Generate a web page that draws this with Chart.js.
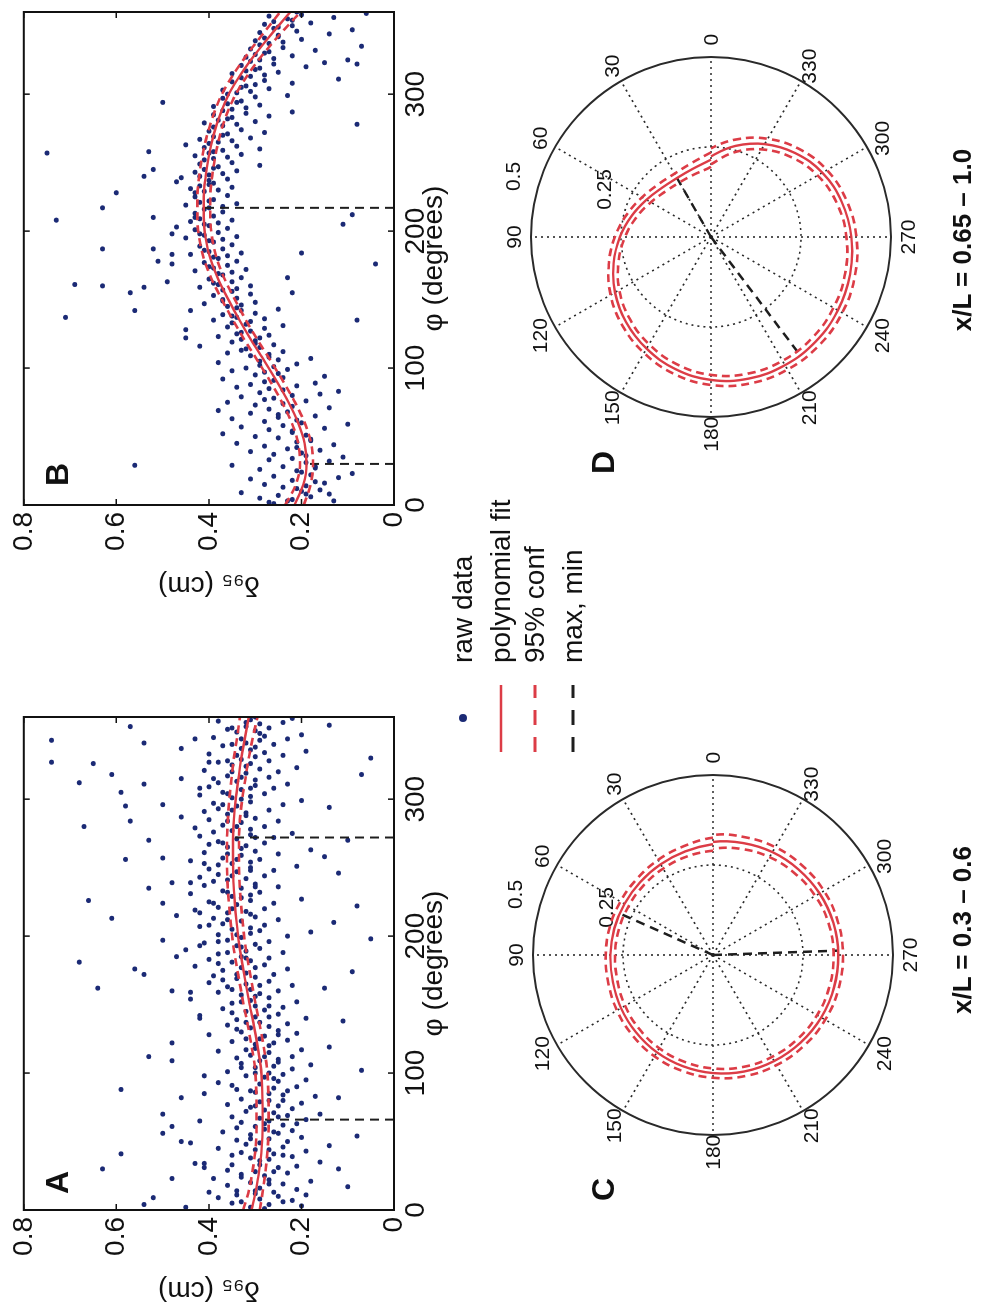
<!DOCTYPE html>
<html>
<head>
<meta charset="utf-8">
<script src="https://cdn.jsdelivr.net/npm/chart.js@4.4.1/dist/chart.umd.min.js"></script>
<style>
html, body { margin: 0; padding: 0; background: #fff; width: 990px; height: 1312px; overflow: hidden; }
/* la figura se dibuja en horizontal (1312x990) y luego se gira 90 grados */
#figura { position: absolute; left: 0; top: 0; width: 1312px; height: 990px; transform-origin: 0 0;
          transform: translateY(1312px) rotate(-90deg); font-family: "Liberation Sans", Arial, sans-serif; color: #111; }
#figura canvas { position: absolute; }
.texto { position: absolute; white-space: nowrap; line-height: 1; }
.letra { font-weight: bold; font-size: 32px; }
.leyenda { font-size: 28px; }
.rango { font-weight: bold; font-size: 26px; width: 320px; text-align: center; }
</style>
</head>
<body>
<div id="figura">
  <canvas id="graficoA" width="625" height="470" style="left:0;top:0"></canvas>
  <canvas id="graficoB" width="607" height="470" style="left:705px;top:0"></canvas>
  <canvas id="polarC" width="500" height="500" style="left:107px;top:463px"></canvas>
  <canvas id="polarD" width="500" height="500" style="left:825px;top:461px"></canvas>

  <div class="texto letra" style="left:118px;top:41px">A</div>
  <div class="texto letra" style="left:826px;top:41px">B</div>
  <div class="texto letra" style="left:111px;top:587px">C</div>
  <div class="texto letra" style="left:838px;top:587px">D</div>

  <!-- leyenda -->
  <div style="position:absolute;left:590px;top:459px;width:8px;height:8px;border-radius:50%;background:#1b2a75"></div>
  <svg style="position:absolute;left:555px;top:480px" width="80" height="110">
    <line x1="5" y1="21" x2="72" y2="21" stroke="#dc3c46" stroke-width="2.5"/>
    <line x1="5" y1="55" x2="72" y2="55" stroke="#dc3c46" stroke-width="3" stroke-dasharray="15 12"/>
    <line x1="5" y1="93" x2="72" y2="93" stroke="#1e1e1e" stroke-width="3" stroke-dasharray="15 12"/>
  </svg>
  <div class="texto leyenda" style="left:649px;top:449px">raw data</div>
  <div class="texto leyenda" style="left:649px;top:487px">polynomial fit</div>
  <div class="texto leyenda" style="left:649px;top:521px">95% conf</div>
  <div class="texto leyenda" style="left:649px;top:559px">max, min</div>

  <div class="texto rango" style="left:222px;top:949px">x/L = 0.3 – 0.6</div>
  <div class="texto rango" style="left:912px;top:949px">x/L = 0.65 – 1.0</div>
</div>

<script>
// Ángulos donde se leyó el ajuste polinómico (grados)
const anguloAjuste = [0, 15, 30, 45, 60, 75, 90, 105, 120, 135, 150, 165, 180, 195, 210, 225, 240, 255, 270, 285, 300, 315, 330, 345, 360];

// x/L = 0.3 - 0.6 (paneles A y C)
const ajusteA   = [0.308, 0.298, 0.291, 0.286, 0.284, 0.284, 0.285, 0.288, 0.295, 0.303, 0.312, 0.320, 0.328, 0.335, 0.340, 0.344, 0.347, 0.348, 0.348, 0.346, 0.342, 0.336, 0.330, 0.322, 0.314];
const inferiorA = [0.290, 0.283, 0.277, 0.273, 0.271, 0.271, 0.272, 0.275, 0.282, 0.290, 0.299, 0.307, 0.315, 0.322, 0.327, 0.331, 0.334, 0.335, 0.335, 0.333, 0.328, 0.321, 0.314, 0.305, 0.295];
const superiorA = [0.326, 0.313, 0.305, 0.299, 0.297, 0.297, 0.298, 0.301, 0.308, 0.316, 0.325, 0.333, 0.341, 0.348, 0.353, 0.357, 0.360, 0.361, 0.361, 0.359, 0.356, 0.351, 0.346, 0.339, 0.333];
const phiExtA   = [272, 66];
const deltaExtA = [0.348, 0.284];

// x/L = 0.65 - 1.0 (paneles B y D)
const ajusteB   = [0.215, 0.196, 0.189, 0.193, 0.207, 0.228, 0.253, 0.280, 0.308, 0.334, 0.358, 0.380, 0.397, 0.407, 0.411, 0.411, 0.407, 0.400, 0.390, 0.376, 0.357, 0.330, 0.298, 0.262, 0.224];
const inferiorB = [0.195, 0.180, 0.175, 0.179, 0.193, 0.214, 0.239, 0.266, 0.294, 0.320, 0.344, 0.366, 0.383, 0.393, 0.397, 0.397, 0.393, 0.386, 0.376, 0.362, 0.342, 0.314, 0.281, 0.243, 0.202];
const superiorB = [0.235, 0.212, 0.203, 0.207, 0.221, 0.242, 0.267, 0.294, 0.322, 0.348, 0.372, 0.394, 0.411, 0.421, 0.425, 0.425, 0.421, 0.414, 0.404, 0.390, 0.372, 0.346, 0.315, 0.281, 0.246];
const phiExtB   = [217, 30];
const deltaExtB = [0.411, 0.189];

// Datos crudos [phi, delta95]
const crudosA = [
  [2,0.31],[4,0.27],[5,0.35],[7,0.22],[8,0.29],[9,0.38],[10,0.25],[11,0.19],[6,0.33],[3,0.20],[12,0.30],
  [13,0.26],[14,0.34],[15,0.21],[16,0.29],[18,0.36],[19,0.24],[20,0.31],[21,0.18],[22,0.27],[23,0.39],[17,0.10],
  [25,0.28],[26,0.33],[27,0.23],[28,0.30],[29,0.36],[31,0.25],[32,0.21],[33,0.29],[34,0.41],[35,0.16],[30,0.12],
  [37,0.27],[38,0.31],[39,0.22],[40,0.35],[41,0.26],[43,0.19],[44,0.30],[45,0.38],[46,0.24],[47,0.14],[42,0.33],
  [49,0.29],[50,0.23],[51,0.34],[52,0.27],[53,0.20],[55,0.31],[56,0.25],[57,0.37],[58,0.22],[59,0.28],[54,0.08],
  [61,0.30],[62,0.24],[63,0.21],[64,0.33],[65,0.27],[66,0.19],[67,0.29],[68,0.35],[69,0.23],[71,0.26],[70,0.16],
  [73,0.28],[74,0.22],[75,0.31],[76,0.25],[77,0.36],[78,0.20],[79,0.29],[80,0.24],[81,0.33],[83,0.17],[82,0.12],
  [85,0.27],[86,0.30],[87,0.23],[88,0.34],[89,0.26],[90,0.21],[92,0.29],[93,0.38],[94,0.25],[95,0.19],
  [97,0.28],[98,0.32],[99,0.24],[100,0.27],[101,0.36],[103,0.22],[104,0.30],[105,0.26],[106,0.18],[107,0.33],[102,0.07],
  [109,0.29],[110,0.25],[111,0.34],[112,0.22],[113,0.31],[115,0.27],[116,0.38],[117,0.20],[118,0.30],[119,0.14],
  [121,0.30],[122,0.26],[123,0.35],[124,0.23],[125,0.32],[127,0.28],[128,0.40],[129,0.21],[130,0.33],[131,0.25],
  [133,0.31],[134,0.27],[135,0.36],[136,0.23],[137,0.29],[139,0.34],[140,0.19],[141,0.30],[142,0.42],[143,0.25],[138,0.11],
  [145,0.32],[146,0.28],[147,0.37],[148,0.24],[149,0.30],[151,0.35],[152,0.21],[153,0.31],[154,0.44],[155,0.27],
  [157,0.33],[158,0.29],[159,0.38],[160,0.25],[161,0.31],[163,0.36],[164,0.22],[165,0.32],[166,0.40],[167,0.27],[162,0.15],
  [169,0.34],[170,0.30],[171,0.39],[172,0.26],[173,0.32],[175,0.37],[176,0.23],[177,0.33],[178,0.43],[179,0.28],[174,0.09],
  [181,0.35],[182,0.31],[183,0.40],[184,0.27],[185,0.33],[187,0.38],[188,0.24],[189,0.32],[190,0.45],[191,0.29],
  [193,0.34],[194,0.30],[195,0.41],[196,0.27],[197,0.36],[199,0.33],[200,0.23],[201,0.38],[202,0.31],[203,0.18],[198,0.05],
  [205,0.35],[206,0.31],[207,0.42],[208,0.28],[209,0.37],[211,0.33],[212,0.25],[213,0.39],[214,0.30],[215,0.47],[210,0.13],
  [217,0.36],[218,0.32],[219,0.43],[220,0.28],[221,0.38],[223,0.34],[224,0.26],[225,0.40],[226,0.31],[227,0.20],[222,0.08],
  [229,0.35],[230,0.31],[231,0.44],[232,0.29],[233,0.37],[235,0.33],[236,0.25],[237,0.41],[238,0.30],[239,0.48],
  [241,0.36],[242,0.32],[243,0.42],[244,0.28],[245,0.38],[247,0.34],[248,0.26],[249,0.40],[250,0.31],[251,0.21],[246,0.12],
  [253,0.35],[254,0.31],[255,0.44],[256,0.29],[257,0.37],[259,0.33],[260,0.25],[261,0.41],[262,0.30],[263,0.18],[258,0.15],
  [265,0.36],[266,0.32],[267,0.40],[268,0.28],[269,0.38],[271,0.34],[272,0.26],[273,0.42],[274,0.31],[275,0.22],[270,0.10],
  [277,0.35],[278,0.31],[279,0.43],[280,0.28],[281,0.37],[283,0.33],[284,0.25],[285,0.40],[286,0.30],[287,0.46],
  [289,0.36],[290,0.32],[291,0.41],[292,0.27],[293,0.38],[295,0.34],[296,0.24],[297,0.39],[298,0.31],[299,0.20],[294,0.14],
  [301,0.35],[302,0.31],[303,0.42],[304,0.28],[305,0.37],[307,0.33],[308,0.26],[309,0.40],[310,0.30],[311,0.23],
  [313,0.34],[314,0.30],[315,0.39],[316,0.27],[317,0.36],[319,0.32],[320,0.25],[321,0.41],[322,0.29],[323,0.21],[318,0.07],
  [325,0.35],[326,0.31],[327,0.38],[328,0.27],[329,0.33],[331,0.30],[332,0.24],[333,0.40],[334,0.28],[335,0.19],[330,0.05],
  [337,0.33],[338,0.30],[339,0.37],[340,0.26],[341,0.32],[343,0.29],[344,0.23],[345,0.39],[346,0.28],[347,0.20],
  [349,0.34],[350,0.30],[351,0.36],[352,0.27],[353,0.32],[355,0.29],[356,0.24],[357,0.38],[358,0.31],[359,0.22],[354,0.14],
  [343,0.74],[327,0.74],[312,0.68],[280,0.67],[226,0.66],[181,0.68],[162,0.64],[30,0.63],[213,0.61],[318,0.61],
  [326,0.65],[41,0.59],[88,0.59],[305,0.59],[295,0.58],[256,0.58],[353,0.57],[284,0.57],[176,0.56],[341,0.54],
  [311,0.54],[172,0.54],[4,0.54],[270,0.53],[235,0.53],[112,0.53],[9,0.52],[56,0.50],[296,0.50],[224,0.50],
  [257,0.50],[197,0.50],[70,0.50],[122,0.48],[61,0.48],[109,0.48],[160,0.48],[23,0.48],[185,0.47],[82,0.46],
  [337,0.46],[315,0.46],[50,0.46],[2,0.45],[239,0.44],[49,0.44],[159,0.44],[344,0.43],[34,0.43],[308,0.42],
  [140,0.42],[65,0.42],[217,0.42],[193,0.42],[253,0.41],[85,0.41],[98,0.41],[31,0.41],[327,0.40],[13,0.40],
  [1,0.28],[6,0.24],[11,0.34],[14,0.30],[19,0.27],[24,0.33],[28,0.26],[33,0.35],[36,0.29],[40,0.24],
  [44,0.27],[48,0.32],[52,0.31],[57,0.26],[60,0.34],[63,0.28],[68,0.25],[72,0.32],[76,0.30],[80,0.27],
  [84,0.24],[87,0.31],[91,0.35],[96,0.26],[100,0.30],[104,0.33],[108,0.25],[112,0.28],[117,0.32],[120,0.27],
  [125,0.29],[128,0.25],[132,0.34],[137,0.32],[141,0.27],[144,0.35],[149,0.27],[152,0.33],[156,0.30],[161,0.35],
  [164,0.29],[168,0.37],[172,0.34],[177,0.30],[180,0.38],[184,0.32],[188,0.36],[192,0.33],[196,0.38],[201,0.34],
  [204,0.29],[208,0.40],[212,0.36],[216,0.31],[220,0.35],[224,0.39],[228,0.33],[232,0.36],[236,0.30],[240,0.39],
  [244,0.35],[248,0.31],[252,0.38],[256,0.34],[260,0.36],[264,0.33],[268,0.37],[272,0.30],[276,0.39],[280,0.34],
  [284,0.36],[288,0.32],[292,0.35],[296,0.37],[300,0.33],[304,0.36],[308,0.31],[312,0.38],[316,0.33],[320,0.35],
  [324,0.32],[328,0.36],[332,0.34],[336,0.31],[340,0.35],[344,0.33],[348,0.29],[352,0.35],[356,0.32],[360,0.30]
];

const crudosB = [
  [1,0.26],[2,0.27],[3,0.13],[4,0.22],[5,0.29],[6,0.18],[7,0.25],[8,0.14],[9,0.33],[10,0.20],[11,0.16],
  [13,0.24],[14,0.19],[15,0.28],[16,0.15],[18,0.22],[19,0.31],[20,0.12],[21,0.26],[22,0.18],[23,0.09],
  [25,0.21],[26,0.29],[27,0.17],[28,0.24],[29,0.35],[31,0.19],[32,0.14],[33,0.27],[34,0.22],[35,0.11],
  [37,0.26],[38,0.20],[39,0.31],[40,0.16],[41,0.23],[43,0.28],[44,0.13],[45,0.34],[46,0.21],[47,0.18],
  [49,0.25],[50,0.30],[51,0.19],[52,0.37],[53,0.22],[55,0.27],[56,0.15],[57,0.33],[58,0.24],[59,0.10],
  [61,0.28],[62,0.21],[63,0.35],[64,0.25],[65,0.17],[67,0.31],[68,0.23],[69,0.38],[70,0.27],[71,0.14],
  [73,0.30],[74,0.24],[75,0.36],[76,0.19],[77,0.28],[79,0.33],[80,0.22],[81,0.16],[82,0.29],[83,0.12],
  [85,0.27],[86,0.34],[87,0.21],[88,0.31],[89,0.17],[91,0.26],[92,0.37],[93,0.24],[94,0.15],[95,0.30],
  [97,0.28],[98,0.35],[99,0.23],[100,0.32],[101,0.26],[103,0.21],[104,0.38],[105,0.29],[106,0.25],[107,0.18],
  [109,0.31],[110,0.27],[111,0.36],[112,0.24],[113,0.33],[115,0.29],[116,0.42],[117,0.26],[118,0.30],[119,0.35],
  [121,0.33],[122,0.29],[123,0.38],[124,0.27],[125,0.34],[127,0.31],[128,0.45],[129,0.28],[130,0.36],[131,0.24],
  [133,0.35],[134,0.31],[135,0.39],[136,0.28],[137,0.34],[139,0.37],[140,0.30],[142,0.33],[143,0.25],
  [145,0.36],[146,0.33],[147,0.41],[148,0.30],[149,0.37],[151,0.34],[153,0.39],[154,0.31],[155,0.22],
  [157,0.37],[158,0.34],[159,0.42],[160,0.31],[161,0.38],[163,0.35],[165,0.40],[166,0.33],
  [169,0.38],[170,0.35],[171,0.43],[172,0.32],[173,0.39],[175,0.36],[176,0.48],[177,0.41],[178,0.34],
  [181,0.39],[182,0.36],[183,0.44],[184,0.33],[185,0.40],[187,0.37],[189,0.42],[190,0.35],
  [193,0.40],[194,0.37],[195,0.45],[196,0.34],[197,0.41],[199,0.38],[201,0.43],[202,0.36],[203,0.47],
  [205,0.41],[206,0.38],[207,0.44],[208,0.35],[209,0.42],[211,0.39],[213,0.43],[214,0.37],
  [217,0.40],[218,0.37],[219,0.45],[220,0.34],[221,0.42],[223,0.39],[225,0.43],[226,0.36],
  [229,0.41],[230,0.38],[231,0.44],[232,0.35],[233,0.42],[235,0.39],[237,0.40],[238,0.36],[239,0.46],
  [241,0.40],[242,0.37],[243,0.43],[244,0.34],[245,0.41],[247,0.38],[248,0.29],[249,0.42],[250,0.35],
  [253,0.39],[254,0.36],[255,0.43],[256,0.33],[257,0.40],[259,0.37],[260,0.29],[261,0.41],[262,0.34],
  [265,0.38],[266,0.35],[267,0.42],[268,0.31],[269,0.39],[271,0.36],[272,0.28],[273,0.40],[274,0.33],
  [277,0.37],[278,0.34],[279,0.41],[280,0.30],[281,0.38],[283,0.35],[284,0.27],[285,0.39],[286,0.32],[287,0.22],
  [289,0.35],[290,0.32],[291,0.39],[292,0.29],[293,0.36],[295,0.33],[297,0.37],[298,0.30],[299,0.23],
  [301,0.34],[302,0.31],[303,0.37],[304,0.27],[305,0.33],[307,0.30],[308,0.22],[309,0.35],[310,0.28],[311,0.12],
  [313,0.31],[314,0.28],[315,0.35],[316,0.25],[317,0.32],[319,0.29],[320,0.19],[321,0.33],[322,0.26],[323,0.15],
  [325,0.29],[326,0.26],[327,0.32],[328,0.22],[329,0.30],[331,0.27],[332,0.17],[333,0.31],[334,0.24],[335,0.07],
  [337,0.27],[338,0.24],[339,0.30],[340,0.20],[341,0.28],[343,0.25],[344,0.14],[345,0.29],[346,0.21],[347,0.09],
  [349,0.25],[350,0.22],[351,0.28],[352,0.18],[353,0.26],[355,0.23],[356,0.13],[357,0.27],[358,0.20],[359,0.06],
  [257,0.75],[208,0.73],[137,0.71],[161,0.69],[217,0.63],[187,0.63],[160,0.63],[228,0.60],[155,0.57],[142,0.56],
  [29,0.56],[240,0.54],[159,0.54],[258,0.53],[210,0.52],[187,0.52],[178,0.51],[245,0.52],[294,0.50],[163,0.49],
  [198,0.48],[183,0.48],[236,0.47],[122,0.45],[142,0.44],[263,0.45],
  [176,0.04],[278,0.08],[135,0.08],[205,0.11],[212,0.09],[325,0.10],[322,0.08],[184,0.20],[166,0.23],
  [3,0.23],[8,0.19],[12,0.21],[17,0.17],[24,0.20],[28,0.17],[36,0.19],[42,0.21],[48,0.18],[54,0.22],
  [60,0.20],[66,0.25],[72,0.22],[78,0.26],[84,0.24],[90,0.28],[96,0.25],[102,0.29],[108,0.27],[114,0.32],
  [120,0.30],[126,0.33],[132,0.32],[138,0.35],[144,0.34],[150,0.37],[156,0.35],[162,0.39],[168,0.37],[174,0.40],
  [180,0.38],[186,0.41],[192,0.39],[198,0.42],[204,0.40],[210,0.43],[216,0.41],[222,0.40],[228,0.43],[234,0.40],
  [240,0.42],[246,0.39],[252,0.41],[258,0.39],[264,0.40],[270,0.37],[276,0.39],[282,0.36],[288,0.37],[294,0.34],
  [300,0.36],[306,0.32],[312,0.33],[318,0.30],[324,0.31],[330,0.28],[336,0.29],[342,0.25],[348,0.26],[354,0.22],[360,0.21]
];

// Rejilla polar: ángulos de los radios y círculos de referencia
const anguloRejilla = [0, 30, 60, 90, 120, 150, 180, 210, 240, 270, 300, 330];
const radioRejilla = [0.25, 0.5];
const anguloEtiquetaRadio = [66, 73];

const ROJO = '#dc3c46';
const AZUL = '#1b2a75';
const NEGRO = '#1e1e1e';

Chart.defaults.font.family = '"Liberation Sans", Arial, sans-serif';
Chart.defaults.color = '#111';
Chart.defaults.animation = false;

// Marco estilo MATLAB: caja cerrada con marcas hacia dentro
const marcoMatlab = {
    id: 'marcoMatlab',
    afterDatasetsDraw(chart) {
        const { ctx, chartArea: a, scales: { x, y } } = chart;
        ctx.save();
        ctx.strokeStyle = '#111';
        ctx.lineWidth = 1.5;
        ctx.beginPath();
        x.ticks.forEach(t => {
            const px = x.getPixelForValue(t.value);
            ctx.moveTo(px, a.bottom); ctx.lineTo(px, a.bottom - 6);
            ctx.moveTo(px, a.top); ctx.lineTo(px, a.top + 6);
        });
        y.ticks.forEach(t => {
            const py = y.getPixelForValue(t.value);
            ctx.moveTo(a.left, py); ctx.lineTo(a.left + 6, py);
            ctx.moveTo(a.right, py); ctx.lineTo(a.right - 6, py);
        });
        ctx.stroke();
        ctx.lineWidth = 2;
        ctx.strokeRect(a.left, a.top, a.right - a.left, a.bottom - a.top);
        ctx.restore();
    }
};

function crearCartesiano(idCanvas, crudos, ajuste, inferior, superior, phiExt, deltaExt, margenDerecho) {
    const curva = valores => anguloAjuste.map((a, i) => ({ x: a, y: valores[i] }));
    const lineaRoja = (valores, guiones) => ({
        data: curva(valores), showLine: true, borderColor: ROJO, borderWidth: guiones ? 2.6 : 2.4,
        borderDash: guiones || [], pointRadius: 0, cubicInterpolationMode: 'monotone'
    });
    const extremos = phiExt.map((p, i) => ({
        data: [{ x: p, y: 0 }, { x: p, y: deltaExt[i] }], showLine: true,
        borderColor: NEGRO, borderWidth: 2, borderDash: [9, 6], pointRadius: 0
    }));

    new Chart(document.getElementById(idCanvas), {
        type: 'scatter',
        data: {
            datasets: [
                lineaRoja(ajuste),
                lineaRoja(inferior, [8, 5]),
                lineaRoja(superior, [8, 5]),
                ...extremos,
                {
                    data: crudos.map(p => ({ x: p[0], y: p[1] })),
                    pointRadius: 2.5, pointBorderWidth: 0, backgroundColor: AZUL
                }
            ]
        },
        options: {
            responsive: false,
            layout: { padding: { left: 0, top: 22, right: margenDerecho, bottom: 0 } },
            plugins: { legend: { display: false }, tooltip: { enabled: false } },
            scales: {
                x: {
                    type: 'linear', min: 0, max: 360,
                    afterFit: s => { s.height = 76; },
                    grid: { display: false, drawTicks: false }, border: { display: false },
                    ticks: { stepSize: 100, includeBounds: false, padding: 5, maxRotation: 0, font: { size: 28 } },
                    title: { display: true, text: 'φ (degrees)', font: { size: 28 }, padding: { top: 0, bottom: 19 } }
                },
                y: {
                    min: 0, max: 0.8,
                    afterFit: s => { s.width = 102; },
                    grid: { display: false, drawTicks: false }, border: { display: false },
                    ticks: { stepSize: 0.2, padding: 7, font: { size: 28 } },
                    title: { display: true, text: 'δ₉₅ (cm)', font: { size: 28 }, padding: { top: 5, bottom: 0 } }
                }
            }
        },
        plugins: [marcoMatlab]
    });
}

// Rejilla polar dibujada con las escalas del propio gráfico
const rejillaPolar = {
    id: 'rejillaPolar',
    beforeDatasetsDraw(chart) {
        const { ctx, scales: { x, y } } = chart;
        const cx = x.getPixelForValue(0), cy = y.getPixelForValue(0);
        const esc = x.getPixelForValue(1) - cx;
        const rMax = radioRejilla[radioRejilla.length - 1];
        ctx.save();
        ctx.strokeStyle = '#2a2a2a';
        ctx.lineWidth = 1.6;
        ctx.setLineDash([2, 4]);
        ctx.beginPath();
        anguloRejilla.forEach(a => {
            const rad = a * Math.PI / 180;
            ctx.moveTo(cx, cy);
            ctx.lineTo(cx + rMax * esc * Math.cos(rad), cy - rMax * esc * Math.sin(rad));
        });
        ctx.stroke();
        radioRejilla.forEach((r, i) => {
            ctx.beginPath();
            if (i === radioRejilla.length - 1) { ctx.setLineDash([]); ctx.lineWidth = 2; }
            ctx.arc(cx, cy, r * esc, 0, 2 * Math.PI);
            ctx.stroke();
        });
        ctx.fillStyle = '#111';
        ctx.font = '21px "Liberation Sans", Arial, sans-serif';
        ctx.textAlign = 'center';
        ctx.textBaseline = 'middle';
        anguloRejilla.forEach(a => {
            const rad = a * Math.PI / 180;
            ctx.fillText(String(a), cx + 0.548 * esc * Math.cos(rad), cy - 0.548 * esc * Math.sin(rad) + 1);
        });
        radioRejilla.forEach((r, i) => {
            const rad = anguloEtiquetaRadio[i] * Math.PI / 180;
            const d = r + 0.075;
            ctx.fillText(String(r), cx + d * esc * Math.cos(rad), cy - d * esc * Math.sin(rad) + 1);
        });
        ctx.restore();
    }
};

function crearPolar(idCanvas, ajuste, inferior, superior, phiExt, deltaExt) {
    const aXY = (r, grados) => ({ x: r * Math.cos(grados * Math.PI / 180), y: r * Math.sin(grados * Math.PI / 180) });
    const n = anguloAjuste.length;
    // un punto vecino a cada lado del cierre solo para suavizar la curva; esos tramos no se pintan
    const curva = valores => [
        aXY(valores[n - 2], anguloAjuste[n - 2] - 360),
        ...anguloAjuste.map((a, i) => aXY(valores[i], a)),
        aXY(valores[1], anguloAjuste[1] + 360)
    ];
    const lineaRoja = (valores, guiones) => ({
        data: curva(valores), showLine: true, borderColor: ROJO, borderWidth: guiones ? 2.6 : 2.4,
        borderDash: guiones || [], pointRadius: 0, tension: 0.4,
        segment: {
            borderColor: s => (s.p0DataIndex === 0 || s.p1DataIndex === n + 1) ? 'rgba(0,0,0,0)' : ROJO
        }
    });
    const extremos = phiExt.map((p, i) => ({
        data: [{ x: 0, y: 0 }, aXY(deltaExt[i], p)], showLine: true,
        borderColor: NEGRO, borderWidth: 2.5, borderDash: [9, 6], pointRadius: 0
    }));
    const lim = 0.5 * 250 / 180;

    new Chart(document.getElementById(idCanvas), {
        type: 'scatter',
        data: { datasets: [lineaRoja(ajuste), lineaRoja(inferior, [8, 5]), lineaRoja(superior, [8, 5]), ...extremos] },
        options: {
            responsive: false,
            layout: { padding: 0 },
            plugins: { legend: { display: false }, tooltip: { enabled: false } },
            scales: {
                x: { type: 'linear', min: -lim, max: lim, display: false },
                y: { type: 'linear', min: -lim, max: lim, display: false }
            }
        },
        plugins: [rejillaPolar]
    });
}

crearCartesiano('graficoA', crudosA, ajusteA, inferiorA, superiorA, phiExtA, deltaExtA, 30);
crearCartesiano('graficoB', crudosB, ajusteB, inferiorB, superiorB, phiExtB, deltaExtB, 12);
crearPolar('polarC', ajusteA, inferiorA, superiorA, phiExtA, deltaExtA);
crearPolar('polarD', ajusteB, inferiorB, superiorB, phiExtB, deltaExtB);
</script>
</body>
</html>
